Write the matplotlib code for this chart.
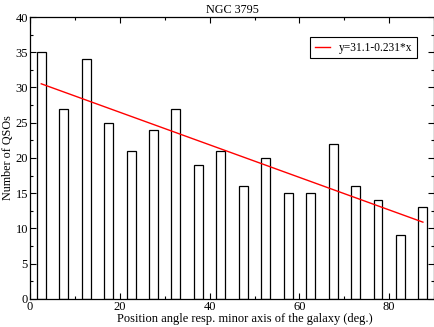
import numpy as np
import matplotlib
matplotlib.use("Agg")
import matplotlib.pyplot as plt
from matplotlib.ticker import MultipleLocator

# -----------------------------------------------------------
# Data
# -----------------------------------------------------------

bin_centers = [2.5, 7.5, 12.5, 17.5, 22.5, 27.5, 32.5, 37.5, 42.5,
               47.5, 52.5, 57.5, 62.5, 67.5, 72.5, 77.5, 82.5, 87.5]
counts = [35, 27, 34, 25, 21, 24, 27, 19, 21,
          16, 20, 15, 15, 22, 16, 14, 9, 13]

fit_intercept = 31.1
fit_slope = -0.231
fit_range = [2.5, 87.5]

# -----------------------------------------------------------
# Plot settings
# -----------------------------------------------------------

plt.rcParams.update({
    "font.family": "Liberation Serif",
    "font.size": 8.7,
    "axes.linewidth": 0.9,
})

fig = plt.figure(figsize=(4.35, 3.27), dpi=100)
ax = fig.add_axes([0.069, 0.086, 0.929, 0.862])

ax.bar(bin_centers, counts, width=2.0, facecolor="white",
       edgecolor="black", linewidth=0.9)

x_fit = np.array(fit_range)
ax.plot(x_fit, fit_intercept + fit_slope * x_fit, color="red",
        linewidth=1.0, label="y=31.1-0.231*x")

ax.set_xlim(0, 90)
ax.set_ylim(0, 40)
ax.xaxis.set_major_locator(MultipleLocator(20))
ax.xaxis.set_minor_locator(MultipleLocator(10))
ax.yaxis.set_major_locator(MultipleLocator(5))
ax.yaxis.set_minor_locator(MultipleLocator(2.5))
ax.tick_params(which="both", direction="in", top=True, right=True,
               labelsize=9, pad=1.5)
ax.tick_params(which="major", length=4, width=0.8)
ax.tick_params(which="minor", length=2, width=0.8)

ax.set_title("NGC 3795", fontsize=8.7, pad=3)
ax.set_xlabel("Position angle resp. minor axis of the galaxy (deg.)",
              fontsize=9, labelpad=0)
ax.xaxis.set_label_coords(0.531, -0.05, transform=ax.transAxes)
ax.xaxis.label.set_va("top")
ax.set_ylabel("Number of QSOs", fontsize=8.7, labelpad=1)

leg = ax.legend(loc="upper right", bbox_to_anchor=(0.958, 0.929),
                borderaxespad=0, fancybox=False, edgecolor="black",
                framealpha=1, fontsize=8.3, handlelength=1.3,
                handletextpad=0.8, borderpad=0.4)
leg.get_frame().set_linewidth(0.8)

fig.savefig("out.png", dpi=100)
